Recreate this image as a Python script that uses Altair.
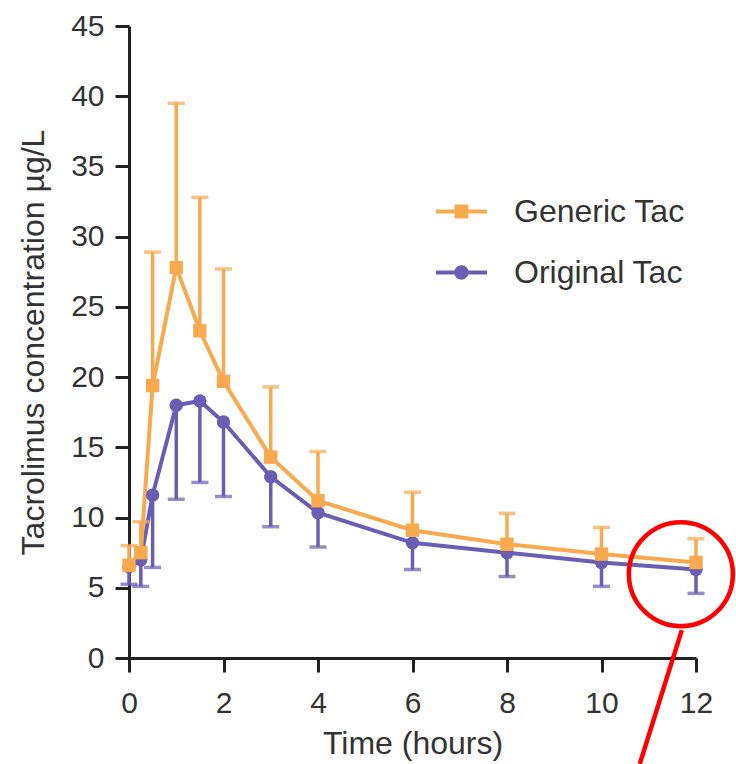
import altair as alt
import pandas as pd

# ---- data ----
times = [0, 0.25, 0.5, 1, 1.5, 2, 3, 4, 6, 8, 10, 12]
generic_mean = [6.6, 7.5, 19.4, 27.8, 23.3, 19.7, 14.3, 11.2, 9.1, 8.1, 7.4, 6.8]
generic_upper = [8.0, 9.7, 28.9, 39.5, 32.8, 27.7, 19.3, 14.7, 11.8, 10.3, 9.3, 8.5]
original_mean = [6.5, 7.0, 11.6, 18.0, 18.3, 16.8, 12.9, 10.35, 8.2, 7.5, 6.8, 6.3]
original_lower = [5.25, 5.1, 6.45, 11.3, 12.5, 11.5, 9.35, 7.9, 6.3, 5.8, 5.1, 4.6]

series_names = ["Generic Tac", "Original Tac"]
series_colors = ["#F9AA4E", "#6A5EB3"]

x_ticks = [0, 2, 4, 6, 8, 10, 12]
y_ticks = [0, 5, 10, 15, 20, 25, 30, 35, 40, 45]

# annotation (red circle and pointer line), in data units
ann_circle_x = [11.68]
ann_circle_y = [5.97]
ann_line_x = [11.70, 10.81]
ann_line_y = [1.99, -7.54]

rows = []
for t, m, e in zip(times, original_mean, original_lower):
    rows.append({"series": "Original Tac", "time": t, "mean": m, "err": e, "ord": 0})
for t, m, e in zip(times, generic_mean, generic_upper):
    rows.append({"series": "Generic Tac", "time": t, "mean": m, "err": e, "ord": 1})
df = pd.DataFrame(rows)

circ_df = pd.DataFrame({"x": ann_circle_x, "y": ann_circle_y})
line_df = pd.DataFrame({"x": ann_line_x, "y": ann_line_y, "o": [0, 1]})

FONT = "Liberation Sans"

xscale = alt.Scale(domain=[0, 12], nice=False, zero=False)
yscale = alt.Scale(domain=[0, 45], nice=False)
cscale = alt.Scale(domain=series_names, range=series_colors)

xaxis = alt.Axis(values=x_ticks, title="Time (hours)", grid=False, tickSize=14,
                 labelPadding=16, titlePadding=10, format="d", labelFlush=False)
yaxis = alt.Axis(values=y_ticks, title="Tacrolimus concentration µg/L", grid=False,
                 tickSize=14, labelPadding=11, titlePadding=20, labelFlush=False)

X = alt.X("time:Q", scale=xscale, axis=xaxis)
Y = alt.Y("mean:Q", scale=yscale, axis=yaxis)
C = alt.Color("series:N", scale=cscale, legend=None)

base = alt.Chart(df)

lines = base.mark_line(strokeWidth=4).encode(
    x=X, y=Y, color=C, detail="series:N", order="time:Q"
)

bars = base.mark_rule(strokeWidth=3.5).encode(
    x="time:Q", y="mean:Q", y2="err:Q", color=C
)

caps = base.mark_tick(orient="horizontal", size=17, thickness=3.5).encode(
    x="time:Q", y="err:Q", color=C
)

circles = base.transform_filter(alt.datum.series == "Original Tac").mark_circle(
    size=180, opacity=1
).encode(x="time:Q", y="mean:Q", color=C)

squares = base.transform_filter(alt.datum.series == "Generic Tac").mark_square(
    size=180, opacity=1
).encode(x="time:Q", y="mean:Q", color=C)

path_generic = "M-1,-0.08H1V0.08H-1Z M-0.27,-0.27H0.27V0.27H-0.27Z"
path_original = ("M-1,-0.08H1V0.08H-1Z M-0.28,0A0.28,0.28 0 1,1 0.28,0"
                 "A0.28,0.28 0 1,1 -0.28,0Z")

leg = alt.Legend(
    title=None, orient="none", legendX=307, legendY=160, padding=0,
    symbolSize=2601, symbolOpacity=1, symbolStrokeWidth=0, rowPadding=19,
    labelOffset=27, labelFontSize=32, labelFont=FONT, labelColor="#333333",
    labelLimit=400,
)

legend_layer = base.mark_point(filled=True, opacity=0).encode(
    x="time:Q", y="mean:Q",
    color=alt.Color("series:N", scale=cscale, legend=leg),
    shape=alt.Shape("series:N",
                    scale=alt.Scale(domain=series_names,
                                    range=[path_generic, path_original]),
                    legend=leg),
)

ann_circle = alt.Chart(circ_df).mark_point(
    shape="circle", size=10816, filled=False, stroke="#FF0000",
    strokeWidth=4.5, opacity=1, clip=False
).encode(x="x:Q", y="y:Q")

ann_line = alt.Chart(line_df).mark_line(
    color="#FF0000", strokeWidth=4.5, clip=False
).encode(x="x:Q", y="y:Q", order="o:Q")

chart = alt.layer(
    lines, bars, caps, circles, squares, legend_layer, ann_circle, ann_line
).resolve_legend(
    color="independent", shape="independent"
).properties(
    width=567, height=632,
    autosize=alt.AutoSizeParams(type="none"),
    padding={"left": 129, "top": 26, "right": 40, "bottom": 106},
    background="white",
).configure_view(strokeWidth=0).configure_axis(
    labelFont=FONT, titleFont=FONT, labelFontSize=30, titleFontSize=32,
    labelColor="#333333", titleColor="#333333", titleFontWeight="normal",
    domainColor="#222222", tickColor="#222222", domainWidth=3, tickWidth=3,
)

chart.save("out.html", embed_options={"renderer": "svg", "actions": False})
